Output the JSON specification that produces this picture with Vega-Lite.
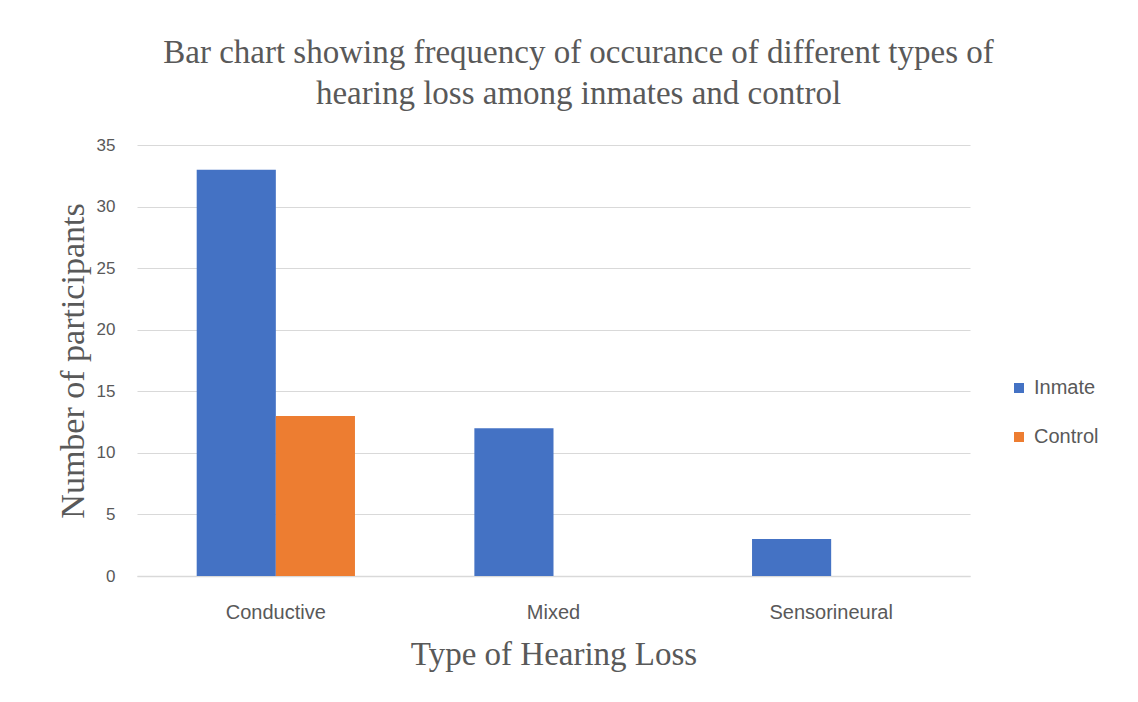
{
  "$schema": "https://vega.github.io/schema/vega-lite/v6.json",
  "autosize": "none",
  "width": 833,
  "height": 431,
  "padding": {"left": 137, "top": 145, "right": 168, "bottom": 126},
  "background": "white",
  "title": {
    "text": ["Bar chart showing frequency of occurance of different types of", "hearing loss among inmates and control"],
    "font": "Liberation Serif",
    "fontSize": 33,
    "fontWeight": "normal",
    "color": "#595959",
    "lineHeight": 41,
    "anchor": "middle",
    "frame": "group",
    "dx": 25,
    "offset": 25
  },
  "data": {
    "values": [
      {"type": "Conductive", "group": "Inmate", "count": 33},
      {"type": "Conductive", "group": "Control", "count": 13},
      {"type": "Mixed", "group": "Inmate", "count": 12},
      {"type": "Mixed", "group": "Control", "count": 0},
      {"type": "Sensorineural", "group": "Inmate", "count": 3},
      {"type": "Sensorineural", "group": "Control", "count": 0}
    ]
  },
  "config": {"view": {"stroke": null}},
  "mark": {"type": "bar"},
  "encoding": {
    "x": {
      "field": "type",
      "type": "nominal",
      "sort": ["Conductive", "Mixed", "Sensorineural"],
      "scale": {"paddingInner": 0.43, "paddingOuter": 0.215},
      "axis": {
        "title": "Type of Hearing Loss",
        "titleFont": "Liberation Serif",
        "titleFontSize": 33,
        "titleFontWeight": "normal",
        "titleColor": "#595959",
        "titlePadding": 16,
        "labelAngle": 0,
        "labelFont": "Liberation Sans",
        "labelFontSize": 20,
        "labelColor": "#595959",
        "labelPadding": 26,
        "ticks": false,
        "domainColor": "#d9d9d9",
        "domainWidth": 1.5
      }
    },
    "xOffset": {"field": "group", "type": "nominal", "sort": ["Inmate", "Control"]},
    "y": {
      "field": "count",
      "type": "quantitative",
      "scale": {"domain": [0, 35]},
      "axis": {
        "title": "Number of  participants",
        "titleFont": "Liberation Serif",
        "titleFontSize": 34,
        "titleFontWeight": "normal",
        "titleColor": "#595959",
        "titlePadding": 6,
        "values": [0, 5, 10, 15, 20, 25, 30, 35],
        "labelFont": "Liberation Sans",
        "labelFontSize": 17,
        "labelColor": "#595959",
        "labelPadding": 22,
        "ticks": false,
        "domain": false,
        "gridColor": "#d9d9d9",
        "gridWidth": 1.2
      }
    },
    "color": {
      "field": "group",
      "type": "nominal",
      "sort": ["Inmate", "Control"],
      "scale": {"domain": ["Inmate", "Control"], "range": ["#4472c4", "#ed7d31"]},
      "legend": {
        "title": null,
        "orient": "none",
        "legendX": 872,
        "legendY": 233,
        "symbolType": "square",
        "symbolSize": 100,
        "symbolStrokeWidth": 0,
        "labelFont": "Liberation Sans",
        "labelFontSize": 20,
        "labelColor": "#595959",
        "rowPadding": 29,
        "labelOffset": 5
      }
    }
  }
}
